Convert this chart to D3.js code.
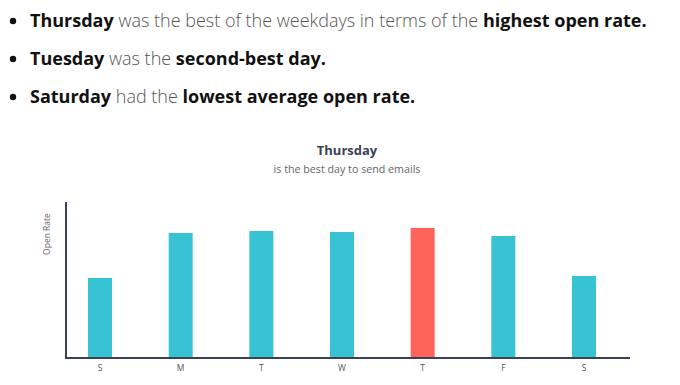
<!DOCTYPE html>
<html>
<head>
<meta charset="utf-8">
<script src="https://cdn.jsdelivr.net/npm/d3@7"></script>
<style>
  body { margin: 0; background: #fff; }
  svg { display: block; }
</style>
</head>
<body>
<svg id="chart" width="680" height="385"></svg>
<script>
// bullet text, each line is a list of [text, bold?]
var bullets = [
  [["Thursday", true], [" was the best of the weekdays in terms of the ", false], ["highest open rate.", true]],
  [["Tuesday", true], [" was the ", false], ["second-best day.", true]],
  [["Saturday", true], [" had the ", false], ["lowest average open rate.", true]]
];

var days = ["Sun", "Mon", "Tue", "Wed", "Thu", "Fri", "Sat"];
var dayLabels = ["S", "M", "T", "W", "T", "F", "S"];
var openRate = [80, 125, 127, 126, 130, 122, 82];
var bestDay = "Thu";

var title = "Thursday";
var subtitle = "is the best day to send emails";
var yLabel = "Open Rate";

var svg = d3.select("#chart");
var font = "'Open Sans', sans-serif";

// bullets
var bl = svg.append("g");
bullets.forEach(function(line, i) {
  var yb = 27 + i * 38;
  bl.append("circle")
    .attr("cx", 13).attr("cy", yb - 6).attr("r", 3.2)
    .attr("fill", "#111");
  var t = bl.append("text")
    .attr("x", 30).attr("y", yb)
    .style("font-family", font)
    .style("font-size", "18px");
  line.forEach(function(p) {
    t.append("tspan")
      .attr("xml:space", "preserve")
      .style("font-weight", p[1] ? 700 : 300)
      .attr("fill", p[1] ? "#111" : "#555")
      .text(p[0]);
  });
});

// chart
var baseY = 358, topY = 202;
var x = d3.scaleBand()
    .domain(days)
    .range([59.7, 624.3])
    .padding(0);
var y = d3.scaleLinear()
    .domain([0, 156])
    .range([baseY, topY]);
var bw = 24;

svg.append("text")
  .attr("x", 347).attr("y", 155)
  .attr("text-anchor", "middle")
  .style("font-family", font)
  .style("font-size", "13px")
  .style("font-weight", 700)
  .attr("fill", "#3b4256")
  .text(title);

svg.append("text")
  .attr("x", 347).attr("y", 173)
  .attr("text-anchor", "middle")
  .style("font-family", font)
  .style("font-size", "10.7px")
  .attr("fill", "#666")
  .text(subtitle);

svg.append("text")
  .attr("transform", "translate(50,234) rotate(-90)")
  .attr("text-anchor", "middle")
  .style("font-family", font)
  .style("font-size", "8.5px")
  .attr("fill", "#666")
  .text(yLabel);

svg.selectAll(".bar").data(days).enter()
  .append("rect")
  .attr("class", "bar")
  .attr("x", function(d) { return x(d) + (x.bandwidth() - bw) / 2; })
  .attr("y", function(d, i) { return y(openRate[i]); })
  .attr("width", bw)
  .attr("height", function(d, i) { return baseY - y(openRate[i]); })
  .attr("fill", function(d) { return d === bestDay ? "#fe6359" : "#38c3d5"; });

var xAxis = d3.axisBottom(x)
  .tickSize(0)
  .tickPadding(7)
  .tickFormat(function(d, i) { return dayLabels[i]; });

var gx = svg.append("g")
  .attr("transform", "translate(0," + baseY + ")")
  .call(xAxis);
gx.select(".domain").remove();
gx.selectAll("text")
  .style("font-family", font)
  .style("font-size", "8.5px")
  .attr("fill", "#555");

svg.append("line")
  .attr("x1", 65).attr("x2", 630)
  .attr("y1", baseY).attr("y2", baseY)
  .attr("stroke", "#3a4055").attr("stroke-width", 2);
svg.append("line")
  .attr("x1", 66).attr("x2", 66)
  .attr("y1", topY).attr("y2", baseY + 1)
  .attr("stroke", "#3a4055").attr("stroke-width", 2);
</script>
</body>
</html>
